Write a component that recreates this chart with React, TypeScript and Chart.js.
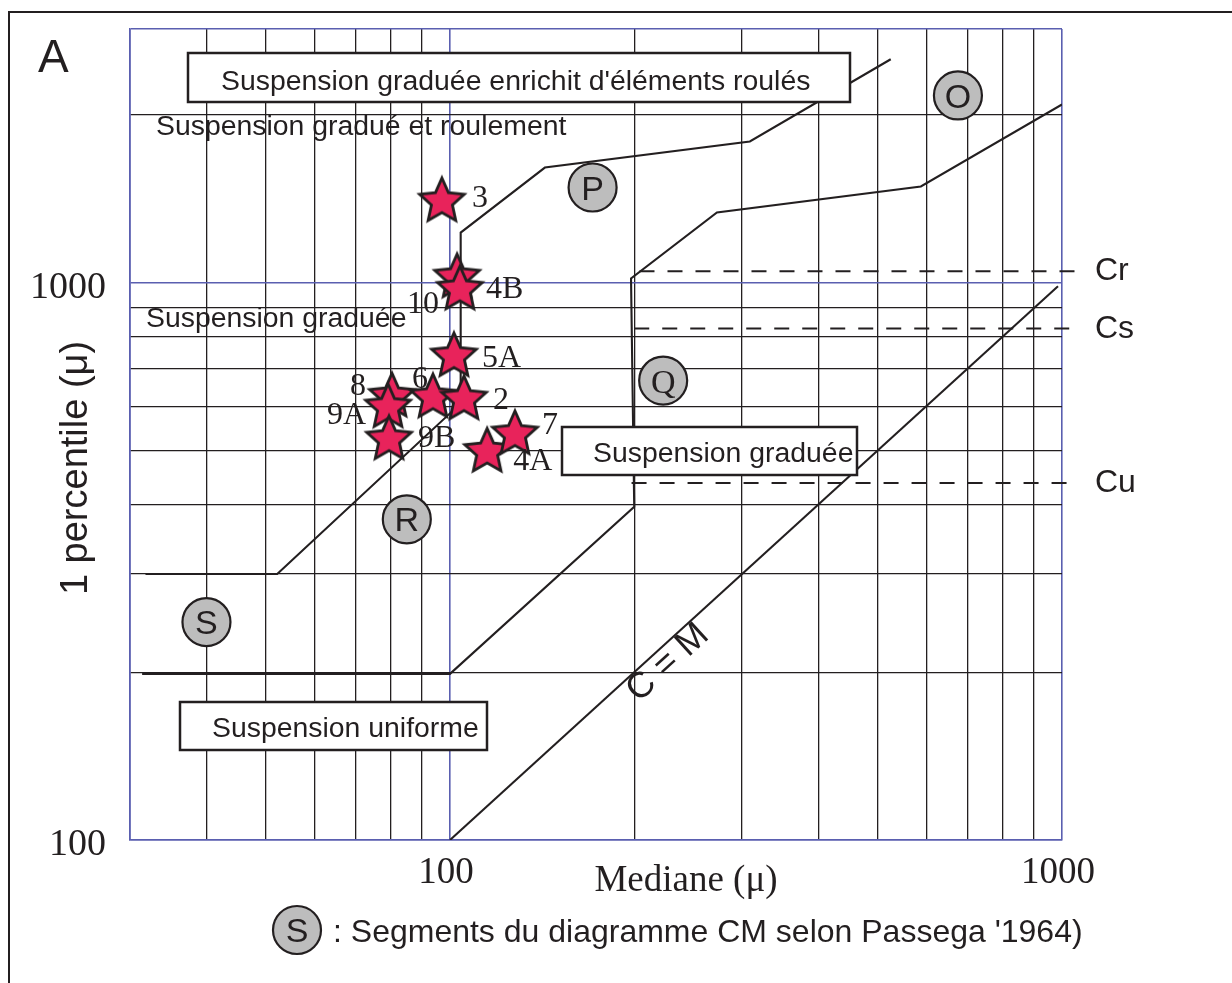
import React, { useEffect, useRef } from 'react';
import { Chart, registerables } from 'chart.js';

Chart.register(...registerables);

// ---------------- Data ----------------
const sampleNames = ['3', '10', '4B', '5A', '8', '9A', '6', '2', '9B', '4A', '7'];
const sampleMedian = [97, 102.7, 103.8, 101.5, 80.4, 79.2, 93.8, 105.4, 79.5, 115, 127.7];
const samplePercentile = [1398, 1021, 971, 737, 624, 597, 622, 617, 523, 497, 534];

const segmentNames = ['O', 'P', 'Q', 'R', 'S'];
const segmentMedian = [676, 171, 223, 85, 40];
const segmentPercentile = [2166, 1481, 667, 376, 246];

const limitRMedian = [31.8, 52.2, 104.1, 104.1, 142.9, 309, 525];
const limitRPercentile = [300, 300, 607, 1229, 1608, 1791, 2515];
const limitQMedian = [31.4, 100, 200, 197.6, 273, 588, 1000];
const limitQPercentile = [198.6, 198.6, 396, 1017, 1336, 1487, 2087];
const cmMedian = [100, 985];
const cmPercentile = [100, 985];

const limitNames = ['Cr', 'Cs', 'Cu'];
const limitStart = [204, 200, 198];
const limitEnd = [1094, 1058, 1040];
const limitValue = [1048, 827, 437];

const xGridValues = [30, 40, 50, 60, 70, 80, 90, 100, 200, 300, 400, 500, 600, 700, 800, 900, 1000];
const yGridValues = [100, 200, 300, 400, 500, 600, 700, 800, 900, 1000, 2000, 2850];
const xLabelled = [100, 1000];
const yLabelled = [100, 1000];
const xBlue = [30, 100, 1000];
const yBlue = [100, 1000, 2850];

// ---------------- Styles ----------------
const INK = '#231f20';
const BLUE = '#5a5fb0';
const GRAY = '#bdbdbd';
const STAR = '#e8235b';
const SANS = '"Liberation Sans", Arial, sans-serif';
const SERIF = '"Liberation Serif", "Times New Roman", serif';
const BOX_FONT = 28.4;

// label offsets (px) relative to each star
const sampleLabelOffsets: number[][] = [
  [30, 6], [-50, 35], [26, 8], [28, 11], [-42, -2], [-61, 17],
  [-21, -10], [29, 10], [29, 8], [26, 18], [27, 0],
];

const toPts = (xs: number[], ys: number[]) => xs.map((x, i) => ({ x, y: ys[i] }));

function makeStar(): HTMLCanvasElement {
  const c = document.createElement('canvas');
  const s = 64;
  c.width = s;
  c.height = s;
  const g = c.getContext('2d')!;
  const R = 23.5, r = 11, cx = s / 2, cy = s / 2;
  g.beginPath();
  for (let i = 0; i < 10; i++) {
    const rad = i % 2 === 0 ? R : r;
    const a = -Math.PI / 2 + (i * Math.PI) / 5;
    const px = cx + rad * Math.cos(a);
    const py = cy + rad * Math.sin(a);
    if (i === 0) g.moveTo(px, py);
    else g.lineTo(px, py);
  }
  g.closePath();
  g.fillStyle = STAR;
  g.fill();
  g.lineWidth = 2.8;
  g.strokeStyle = INK;
  g.lineJoin = 'miter';
  g.stroke();
  return c;
}

function labelledBox(ctx: CanvasRenderingContext2D, x: number, y: number, w: number, h: number, text: string, tx: number, ty: number) {
  ctx.fillStyle = '#ffffff';
  ctx.fillRect(x, y, w, h);
  ctx.lineWidth = 2.5;
  ctx.strokeStyle = INK;
  ctx.strokeRect(x, y, w, h);
  ctx.fillStyle = INK;
  ctx.font = `${BOX_FONT}px ${SANS}`;
  ctx.textAlign = 'left';
  ctx.textBaseline = 'alphabetic';
  ctx.fillText(text, tx, ty);
}

const overlayPlugin = {
  id: 'cmOverlay',
  beforeDatasetDraw(chart: any, args: any) {
    if (chart.data.datasets[args.index].label !== 'Segments') return;
    const ctx = chart.ctx as CanvasRenderingContext2D;
    ctx.save();
    labelledBox(ctx, 188, 53, 662, 49, "Suspension graduée enrichit d'éléments roulés", 221, 90);
    labelledBox(ctx, 562, 427, 295, 48, 'Suspension graduée', 593, 462);
    labelledBox(ctx, 180, 702, 307, 48, 'Suspension uniforme', 212, 737);
    ctx.restore();
  },
  afterDatasetsDraw(chart: any) {
    const ctx = chart.ctx as CanvasRenderingContext2D;
    ctx.save();
    ctx.fillStyle = INK;
    ctx.textBaseline = 'alphabetic';
    // free texts
    ctx.font = `${BOX_FONT}px ${SANS}`;
    ctx.textAlign = 'left';
    ctx.fillText('Suspension gradué et roulement', 156, 135);
    ctx.fillText('Suspension graduée', 146, 327);

    // segment letters
    const segMeta = chart.getDatasetMeta(1);
    segMeta.data.forEach((pt: any, i: number) => {
      const letter = segmentNames[i];
      const size = 34;
      ctx.font = `${size}px ${letter === 'Q' ? SERIF : SANS}`;
      ctx.textAlign = 'center';
      ctx.fillText(letter, pt.x, pt.y + size * 0.355);
    });

    // sample labels
    const sMeta = chart.getDatasetMeta(0);
    ctx.font = `32px ${SERIF}`;
    ctx.textAlign = 'left';
    sMeta.data.forEach((pt: any, i: number) => {
      const [dx, dy] = sampleLabelOffsets[i];
      ctx.fillText(sampleNames[i], pt.x + dx, pt.y + dy);
    });
    ctx.restore();
  },
  afterDraw(chart: any) {
    const ctx = chart.ctx as CanvasRenderingContext2D;
    const yScale = chart.scales.y;
    ctx.save();
    // outer frame
    ctx.strokeStyle = INK;
    ctx.lineWidth = 2;
    ctx.strokeRect(9, 12, 1300, 1100);

    ctx.fillStyle = INK;
    ctx.textBaseline = 'alphabetic';
    // panel letter
    ctx.font = `46px ${SANS}`;
    ctx.textAlign = 'left';
    ctx.fillText('A', 38, 72);

    // y title
    ctx.save();
    ctx.translate(87, 468);
    ctx.rotate(-Math.PI / 2);
    ctx.font = `38px ${SANS}`;
    ctx.textAlign = 'center';
    ctx.fillText('1 percentile (μ)', 0, 0);
    ctx.restore();

    // x title
    ctx.font = `37px ${SERIF}`;
    ctx.textAlign = 'center';
    ctx.fillText('Mediane (μ)', 686, 891);

    // C = M
    ctx.save();
    ctx.translate(668, 663);
    ctx.rotate(-Math.atan2(557, 612));
    ctx.font = `36px ${SANS}`;
    ctx.textAlign = 'center';
    ctx.textBaseline = 'middle';
    ctx.fillText('C = M', 0, 0);
    ctx.restore();

    // Cr Cs Cu
    ctx.font = `32px ${SANS}`;
    ctx.textAlign = 'left';
    ctx.textBaseline = 'alphabetic';
    limitNames.forEach((n, i) => {
      const py = yScale.getPixelForValue(limitValue[i]);
      ctx.fillText(n, 1095, py + 9);
    });

    // legend
    ctx.beginPath();
    ctx.arc(297, 930, 24, 0, Math.PI * 2);
    ctx.fillStyle = GRAY;
    ctx.fill();
    ctx.lineWidth = 2.2;
    ctx.strokeStyle = INK;
    ctx.stroke();
    ctx.fillStyle = INK;
    ctx.font = `34px ${SANS}`;
    ctx.textAlign = 'center';
    ctx.fillText('S', 297, 930 + 12);
    ctx.font = `32px ${SANS}`;
    ctx.textAlign = 'left';
    ctx.fillText(": Segments du diagramme CM selon Passega '1964)", 333, 942);
    ctx.restore();
  },
};

export default function App() {
  const ref = useRef<HTMLCanvasElement>(null);

  useEffect(() => {
    const star = makeStar();
    const lineBase = {
      showLine: true,
      pointRadius: 0,
      borderColor: INK,
      borderWidth: 2.1,
      fill: false,
      tension: 0,
      borderJoinStyle: 'miter' as const,
      order: 5,
    };
    const chart = new Chart(ref.current!, {
      type: 'scatter',
      data: {
        datasets: [
          {
            label: 'Échantillons',
            data: toPts(sampleMedian, samplePercentile),
            pointStyle: star as any,
            pointRadius: 24,
            showLine: false,
            order: 1,
          },
          {
            label: 'Segments',
            data: toPts(segmentMedian, segmentPercentile),
            pointStyle: 'circle',
            pointRadius: 24,
            backgroundColor: GRAY,
            borderColor: INK,
            borderWidth: 2.2,
            showLine: false,
            order: 2,
          },
          { label: 'Limite R', data: toPts(limitRMedian, limitRPercentile), ...lineBase },
          { label: 'Limite Q', data: toPts(limitQMedian, limitQPercentile), ...lineBase },
          { label: 'C = M', data: toPts(cmMedian, cmPercentile), ...lineBase },
          ...limitNames.map((n, i) => ({
            label: n,
            data: [
              { x: limitStart[i], y: limitValue[i] },
              { x: limitEnd[i], y: limitValue[i] },
            ],
            ...lineBase,
            borderWidth: 2,
            borderDash: [15, 13],
            clip: false as any,
          })),
        ] as any,
      },
      options: {
        responsive: false,
        devicePixelRatio: 1,
        animation: false,
        events: [],
        layout: { padding: { top: 29, right: 170, bottom: 0, left: 0 } },
        plugins: {
          legend: { display: false },
          tooltip: { enabled: false },
        },
        scales: {
          x: {
            type: 'logarithmic',
            min: 30,
            max: 1000,
            afterBuildTicks: (scale: any) => {
              scale.ticks = xGridValues.map((v) => ({ value: v }));
            },
            afterFit: (scale: any) => {
              scale.height = 143;
              scale.paddingLeft = 0;
              scale.paddingRight = 0;
            },
            grid: {
              drawTicks: false,
              color: (c: any) => (xBlue.includes(c.tick?.value) ? BLUE : INK),
              lineWidth: (c: any) => (xBlue.includes(c.tick?.value) ? 1.6 : 1.3),
            },
            border: { display: true, color: BLUE, width: 1.6 },
            ticks: {
              autoSkip: false,
              maxRotation: 0,
              minRotation: 0,
              padding: 11,
              labelOffset: -4,
              color: INK,
              font: { family: SERIF, size: 37 },
              callback: (v: any) => (xLabelled.includes(Number(v)) ? String(v) : ''),
            },
          },
          y: {
            type: 'logarithmic',
            min: 100,
            max: 2850,
            afterBuildTicks: (scale: any) => {
              scale.ticks = yGridValues.map((v) => ({ value: v }));
            },
            afterFit: (scale: any) => {
              scale.width = 130;
              scale.paddingTop = 0;
              scale.paddingBottom = 0;
            },
            grid: {
              drawTicks: false,
              color: (c: any) => (yBlue.includes(c.tick?.value) ? BLUE : INK),
              lineWidth: (c: any) => (yBlue.includes(c.tick?.value) ? 1.6 : 1.3),
            },
            border: { display: true, color: BLUE, width: 1.6 },
            ticks: {
              autoSkip: false,
              padding: 24,
              labelOffset: 5,
              color: INK,
              font: { family: SERIF, size: 38 },
              callback: (v: any) => (yLabelled.includes(Number(v)) ? String(v) : ''),
            },
          },
        },
      } as any,
      plugins: [overlayPlugin],
    });
    return () => chart.destroy();
  }, []);

  return (
    <div style={{ position: 'absolute', left: 0, top: 0, width: 1232, height: 983, background: '#ffffff', overflow: 'hidden' }}>
      <canvas ref={ref} width={1232} height={983} style={{ display: 'block', width: 1232, height: 983 }} />
    </div>
  );
}
